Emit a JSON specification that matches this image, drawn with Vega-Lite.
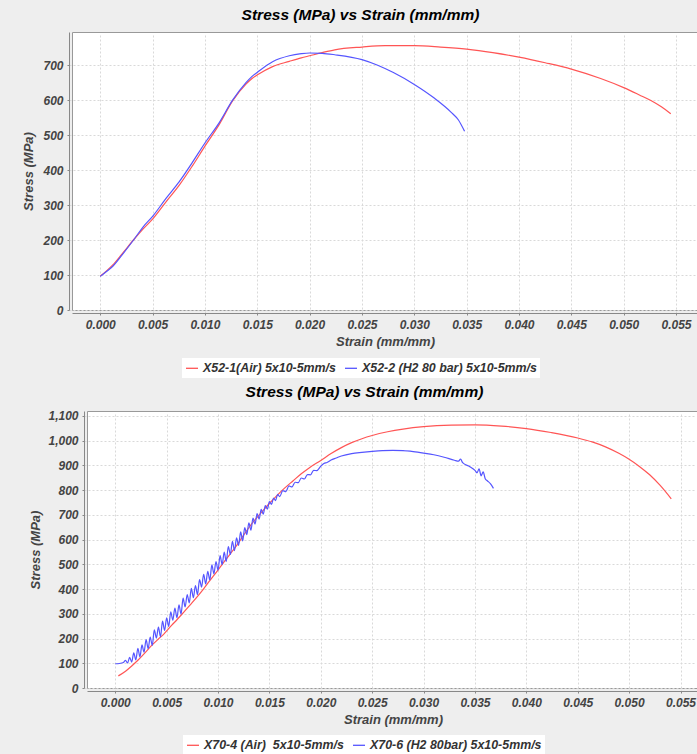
{
  "$schema": "https://vega.github.io/schema/vega-lite/v6.json",
  "background": "#eeeeee",
  "padding": {"left": 22, "top": 7, "right": 0, "bottom": 0},
  "spacing": 5,
  "resolve": {"scale": {"color": "independent"}},
  "config": {
    "font": "Liberation Sans",
    "view": {"fill": "white", "stroke": "#999999"},
    "axis": {
      "labelFont": "Liberation Sans", "labelFontSize": 12, "labelFontStyle": "italic", "labelFontWeight": "bold", "labelColor": "#444444",
      "titleFont": "Liberation Sans", "titleFontSize": 13, "titleFontStyle": "italic", "titleFontWeight": "bold", "titleColor": "#444444",
      "domainColor": "#888888", "tickColor": "#888888", "tickSize": 2, "offset": 3, "labelPadding": 4, "titlePadding": 5,
      "gridColor": "#d9d9d9", "gridDash": [2, 2], "labelOverlap": false, "labelFlush": false
    },
    "legend": {
      "direction": "horizontal", "fillColor": "white", "padding": 3, "symbolType": "stroke", "symbolSize": 144, "symbolStrokeWidth": 1.3,
      "labelFont": "Liberation Sans", "labelFontSize": 12.4, "labelFontStyle": "italic", "labelFontWeight": "bold", "labelColor": "#333333",
      "labelLimit": 400, "columnPadding": 6, "labelOffset": 4, "title": null
    },
    "title": {"font": "Liberation Sans", "fontSize": 15.5, "fontStyle": "italic", "fontWeight": "bold", "color": "#000000", "offset": 9, "anchor": "middle", "frame": "bounds"}
  },
  "datasets": {
    "top": [
      {"series": "X52-1(Air) 5x10-5mm/s", "strain": 0, "stress": 97},
      {"series": "X52-1(Air) 5x10-5mm/s", "strain": 0.0006, "stress": 112},
      {"series": "X52-1(Air) 5x10-5mm/s", "strain": 0.0012, "stress": 129},
      {"series": "X52-1(Air) 5x10-5mm/s", "strain": 0.0022, "stress": 165},
      {"series": "X52-1(Air) 5x10-5mm/s", "strain": 0.00325, "stress": 203},
      {"series": "X52-1(Air) 5x10-5mm/s", "strain": 0.0041, "stress": 232},
      {"series": "X52-1(Air) 5x10-5mm/s", "strain": 0.00506, "stress": 262},
      {"series": "X52-1(Air) 5x10-5mm/s", "strain": 0.0063, "stress": 310},
      {"series": "X52-1(Air) 5x10-5mm/s", "strain": 0.00755, "stress": 357},
      {"series": "X52-1(Air) 5x10-5mm/s", "strain": 0.0088, "stress": 412},
      {"series": "X52-1(Air) 5x10-5mm/s", "strain": 0.01003, "stress": 470},
      {"series": "X52-1(Air) 5x10-5mm/s", "strain": 0.01137, "stress": 531},
      {"series": "X52-1(Air) 5x10-5mm/s", "strain": 0.01264, "stress": 598},
      {"series": "X52-1(Air) 5x10-5mm/s", "strain": 0.01392, "stress": 646},
      {"series": "X52-1(Air) 5x10-5mm/s", "strain": 0.0145, "stress": 662},
      {"series": "X52-1(Air) 5x10-5mm/s", "strain": 0.0151, "stress": 674},
      {"series": "X52-1(Air) 5x10-5mm/s", "strain": 0.01646, "stress": 696},
      {"series": "X52-1(Air) 5x10-5mm/s", "strain": 0.01806, "stress": 711},
      {"series": "X52-1(Air) 5x10-5mm/s", "strain": 0.0192, "stress": 721},
      {"series": "X52-1(Air) 5x10-5mm/s", "strain": 0.02, "stress": 727},
      {"series": "X52-1(Air) 5x10-5mm/s", "strain": 0.0212, "stress": 736},
      {"series": "X52-1(Air) 5x10-5mm/s", "strain": 0.0224, "stress": 744},
      {"series": "X52-1(Air) 5x10-5mm/s", "strain": 0.025, "stress": 752},
      {"series": "X52-1(Air) 5x10-5mm/s", "strain": 0.0272, "stress": 756},
      {"series": "X52-1(Air) 5x10-5mm/s", "strain": 0.03, "stress": 756},
      {"series": "X52-1(Air) 5x10-5mm/s", "strain": 0.0325, "stress": 752},
      {"series": "X52-1(Air) 5x10-5mm/s", "strain": 0.035, "stress": 746},
      {"series": "X52-1(Air) 5x10-5mm/s", "strain": 0.0375, "stress": 736},
      {"series": "X52-1(Air) 5x10-5mm/s", "strain": 0.04, "stress": 723},
      {"series": "X52-1(Air) 5x10-5mm/s", "strain": 0.0425, "stress": 707},
      {"series": "X52-1(Air) 5x10-5mm/s", "strain": 0.045, "stress": 689},
      {"series": "X52-1(Air) 5x10-5mm/s", "strain": 0.0478, "stress": 662},
      {"series": "X52-1(Air) 5x10-5mm/s", "strain": 0.05, "stress": 636},
      {"series": "X52-1(Air) 5x10-5mm/s", "strain": 0.0515, "stress": 615},
      {"series": "X52-1(Air) 5x10-5mm/s", "strain": 0.0526, "stress": 599},
      {"series": "X52-1(Air) 5x10-5mm/s", "strain": 0.0536, "stress": 581},
      {"series": "X52-1(Air) 5x10-5mm/s", "strain": 0.0545, "stress": 561},
      {"series": "X52-2 (H2 80 bar) 5x10-5mm/s", "strain": 0, "stress": 96},
      {"series": "X52-2 (H2 80 bar) 5x10-5mm/s", "strain": 0.0006, "stress": 110},
      {"series": "X52-2 (H2 80 bar) 5x10-5mm/s", "strain": 0.0012, "stress": 125},
      {"series": "X52-2 (H2 80 bar) 5x10-5mm/s", "strain": 0.0022, "stress": 162},
      {"series": "X52-2 (H2 80 bar) 5x10-5mm/s", "strain": 0.00325, "stress": 203},
      {"series": "X52-2 (H2 80 bar) 5x10-5mm/s", "strain": 0.0041, "stress": 238},
      {"series": "X52-2 (H2 80 bar) 5x10-5mm/s", "strain": 0.00506, "stress": 270},
      {"series": "X52-2 (H2 80 bar) 5x10-5mm/s", "strain": 0.0063, "stress": 320},
      {"series": "X52-2 (H2 80 bar) 5x10-5mm/s", "strain": 0.00755, "stress": 367},
      {"series": "X52-2 (H2 80 bar) 5x10-5mm/s", "strain": 0.0088, "stress": 422},
      {"series": "X52-2 (H2 80 bar) 5x10-5mm/s", "strain": 0.01003, "stress": 479},
      {"series": "X52-2 (H2 80 bar) 5x10-5mm/s", "strain": 0.01137, "stress": 536},
      {"series": "X52-2 (H2 80 bar) 5x10-5mm/s", "strain": 0.01264, "stress": 600},
      {"series": "X52-2 (H2 80 bar) 5x10-5mm/s", "strain": 0.01392, "stress": 650},
      {"series": "X52-2 (H2 80 bar) 5x10-5mm/s", "strain": 0.0145, "stress": 668},
      {"series": "X52-2 (H2 80 bar) 5x10-5mm/s", "strain": 0.0151, "stress": 682},
      {"series": "X52-2 (H2 80 bar) 5x10-5mm/s", "strain": 0.01646, "stress": 710},
      {"series": "X52-2 (H2 80 bar) 5x10-5mm/s", "strain": 0.01806, "stress": 727},
      {"series": "X52-2 (H2 80 bar) 5x10-5mm/s", "strain": 0.0192, "stress": 733},
      {"series": "X52-2 (H2 80 bar) 5x10-5mm/s", "strain": 0.02, "stress": 735},
      {"series": "X52-2 (H2 80 bar) 5x10-5mm/s", "strain": 0.0212, "stress": 734},
      {"series": "X52-2 (H2 80 bar) 5x10-5mm/s", "strain": 0.0224, "stress": 730},
      {"series": "X52-2 (H2 80 bar) 5x10-5mm/s", "strain": 0.025, "stress": 716},
      {"series": "X52-2 (H2 80 bar) 5x10-5mm/s", "strain": 0.0265, "stress": 700},
      {"series": "X52-2 (H2 80 bar) 5x10-5mm/s", "strain": 0.028, "stress": 679},
      {"series": "X52-2 (H2 80 bar) 5x10-5mm/s", "strain": 0.03, "stress": 645},
      {"series": "X52-2 (H2 80 bar) 5x10-5mm/s", "strain": 0.0319, "stress": 606},
      {"series": "X52-2 (H2 80 bar) 5x10-5mm/s", "strain": 0.0335, "stress": 566},
      {"series": "X52-2 (H2 80 bar) 5x10-5mm/s", "strain": 0.0342, "stress": 544},
      {"series": "X52-2 (H2 80 bar) 5x10-5mm/s", "strain": 0.0348, "stress": 511}
    ],
    "bottom": [
      {"series": "X70-4 (Air)\u00a0 5x10-5mm/s", "strain": 0.0003, "stress": 49},
      {"series": "X70-4 (Air)\u00a0 5x10-5mm/s", "strain": 0.001, "stress": 68},
      {"series": "X70-4 (Air)\u00a0 5x10-5mm/s", "strain": 0.0016, "stress": 89},
      {"series": "X70-4 (Air)\u00a0 5x10-5mm/s", "strain": 0.0022, "stress": 112},
      {"series": "X70-4 (Air)\u00a0 5x10-5mm/s", "strain": 0.00275, "stress": 136},
      {"series": "X70-4 (Air)\u00a0 5x10-5mm/s", "strain": 0.0035, "stress": 170},
      {"series": "X70-4 (Air)\u00a0 5x10-5mm/s", "strain": 0.0042, "stress": 198},
      {"series": "X70-4 (Air)\u00a0 5x10-5mm/s", "strain": 0.0047, "stress": 217},
      {"series": "X70-4 (Air)\u00a0 5x10-5mm/s", "strain": 0.0055, "stress": 254},
      {"series": "X70-4 (Air)\u00a0 5x10-5mm/s", "strain": 0.006, "stress": 276},
      {"series": "X70-4 (Air)\u00a0 5x10-5mm/s", "strain": 0.00663, "stress": 305},
      {"series": "X70-4 (Air)\u00a0 5x10-5mm/s", "strain": 0.0075, "stress": 346},
      {"series": "X70-4 (Air)\u00a0 5x10-5mm/s", "strain": 0.00858, "stress": 400},
      {"series": "X70-4 (Air)\u00a0 5x10-5mm/s", "strain": 0.0092, "stress": 434},
      {"series": "X70-4 (Air)\u00a0 5x10-5mm/s", "strain": 0.00994, "stress": 474},
      {"series": "X70-4 (Air)\u00a0 5x10-5mm/s", "strain": 0.0105, "stress": 505},
      {"series": "X70-4 (Air)\u00a0 5x10-5mm/s", "strain": 0.01117, "stress": 541},
      {"series": "X70-4 (Air)\u00a0 5x10-5mm/s", "strain": 0.0118, "stress": 576},
      {"series": "X70-4 (Air)\u00a0 5x10-5mm/s", "strain": 0.01246, "stress": 616},
      {"series": "X70-4 (Air)\u00a0 5x10-5mm/s", "strain": 0.0132, "stress": 660},
      {"series": "X70-4 (Air)\u00a0 5x10-5mm/s", "strain": 0.01408, "stress": 703},
      {"series": "X70-4 (Air)\u00a0 5x10-5mm/s", "strain": 0.0149, "stress": 742},
      {"series": "X70-4 (Air)\u00a0 5x10-5mm/s", "strain": 0.0157, "stress": 777},
      {"series": "X70-4 (Air)\u00a0 5x10-5mm/s", "strain": 0.0165, "stress": 809},
      {"series": "X70-4 (Air)\u00a0 5x10-5mm/s", "strain": 0.01731, "stress": 838},
      {"series": "X70-4 (Air)\u00a0 5x10-5mm/s", "strain": 0.0181, "stress": 866},
      {"series": "X70-4 (Air)\u00a0 5x10-5mm/s", "strain": 0.01893, "stress": 892},
      {"series": "X70-4 (Air)\u00a0 5x10-5mm/s", "strain": 0.02, "stress": 920},
      {"series": "X70-4 (Air)\u00a0 5x10-5mm/s", "strain": 0.021, "stress": 948},
      {"series": "X70-4 (Air)\u00a0 5x10-5mm/s", "strain": 0.022, "stress": 972},
      {"series": "X70-4 (Air)\u00a0 5x10-5mm/s", "strain": 0.023, "stress": 992},
      {"series": "X70-4 (Air)\u00a0 5x10-5mm/s", "strain": 0.024, "stress": 1008},
      {"series": "X70-4 (Air)\u00a0 5x10-5mm/s", "strain": 0.025, "stress": 1021},
      {"series": "X70-4 (Air)\u00a0 5x10-5mm/s", "strain": 0.0265, "stress": 1036},
      {"series": "X70-4 (Air)\u00a0 5x10-5mm/s", "strain": 0.028, "stress": 1047},
      {"series": "X70-4 (Air)\u00a0 5x10-5mm/s", "strain": 0.03, "stress": 1057},
      {"series": "X70-4 (Air)\u00a0 5x10-5mm/s", "strain": 0.0327, "stress": 1063},
      {"series": "X70-4 (Air)\u00a0 5x10-5mm/s", "strain": 0.035, "stress": 1064},
      {"series": "X70-4 (Air)\u00a0 5x10-5mm/s", "strain": 0.0376, "stress": 1059},
      {"series": "X70-4 (Air)\u00a0 5x10-5mm/s", "strain": 0.04, "stress": 1049},
      {"series": "X70-4 (Air)\u00a0 5x10-5mm/s", "strain": 0.0424, "stress": 1033},
      {"series": "X70-4 (Air)\u00a0 5x10-5mm/s", "strain": 0.045, "stress": 1011},
      {"series": "X70-4 (Air)\u00a0 5x10-5mm/s", "strain": 0.0464, "stress": 995},
      {"series": "X70-4 (Air)\u00a0 5x10-5mm/s", "strain": 0.0477, "stress": 975},
      {"series": "X70-4 (Air)\u00a0 5x10-5mm/s", "strain": 0.049, "stress": 949},
      {"series": "X70-4 (Air)\u00a0 5x10-5mm/s", "strain": 0.05, "stress": 925},
      {"series": "X70-4 (Air)\u00a0 5x10-5mm/s", "strain": 0.051, "stress": 896},
      {"series": "X70-4 (Air)\u00a0 5x10-5mm/s", "strain": 0.052, "stress": 862},
      {"series": "X70-4 (Air)\u00a0 5x10-5mm/s", "strain": 0.053, "stress": 820},
      {"series": "X70-4 (Air)\u00a0 5x10-5mm/s", "strain": 0.0541, "stress": 765},
      {"series": "X70-6 (H2 80bar) 5x10-5mm/s", "strain": 0, "stress": 98},
      {"series": "X70-6 (H2 80bar) 5x10-5mm/s", "strain": 0.0004, "stress": 99},
      {"series": "X70-6 (H2 80bar) 5x10-5mm/s", "strain": 0.0008, "stress": 103},
      {"series": "X70-6 (H2 80bar) 5x10-5mm/s", "strain": 0.001, "stress": 112},
      {"series": "X70-6 (H2 80bar) 5x10-5mm/s", "strain": 0.0012, "stress": 101},
      {"series": "X70-6 (H2 80bar) 5x10-5mm/s", "strain": 0.0014, "stress": 124},
      {"series": "X70-6 (H2 80bar) 5x10-5mm/s", "strain": 0.0016, "stress": 105},
      {"series": "X70-6 (H2 80bar) 5x10-5mm/s", "strain": 0.0018, "stress": 142},
      {"series": "X70-6 (H2 80bar) 5x10-5mm/s", "strain": 0.002, "stress": 114},
      {"series": "X70-6 (H2 80bar) 5x10-5mm/s", "strain": 0.0022, "stress": 160},
      {"series": "X70-6 (H2 80bar) 5x10-5mm/s", "strain": 0.0024, "stress": 126},
      {"series": "X70-6 (H2 80bar) 5x10-5mm/s", "strain": 0.0026, "stress": 174},
      {"series": "X70-6 (H2 80bar) 5x10-5mm/s", "strain": 0.0028, "stress": 145},
      {"series": "X70-6 (H2 80bar) 5x10-5mm/s", "strain": 0.003, "stress": 196},
      {"series": "X70-6 (H2 80bar) 5x10-5mm/s", "strain": 0.0032, "stress": 159},
      {"series": "X70-6 (H2 80bar) 5x10-5mm/s", "strain": 0.0034, "stress": 206},
      {"series": "X70-6 (H2 80bar) 5x10-5mm/s", "strain": 0.0036, "stress": 172},
      {"series": "X70-6 (H2 80bar) 5x10-5mm/s", "strain": 0.0038, "stress": 235},
      {"series": "X70-6 (H2 80bar) 5x10-5mm/s", "strain": 0.004, "stress": 202},
      {"series": "X70-6 (H2 80bar) 5x10-5mm/s", "strain": 0.0042, "stress": 246},
      {"series": "X70-6 (H2 80bar) 5x10-5mm/s", "strain": 0.0044, "stress": 207},
      {"series": "X70-6 (H2 80bar) 5x10-5mm/s", "strain": 0.0046, "stress": 270},
      {"series": "X70-6 (H2 80bar) 5x10-5mm/s", "strain": 0.0048, "stress": 233},
      {"series": "X70-6 (H2 80bar) 5x10-5mm/s", "strain": 0.005, "stress": 284},
      {"series": "X70-6 (H2 80bar) 5x10-5mm/s", "strain": 0.0052, "stress": 249},
      {"series": "X70-6 (H2 80bar) 5x10-5mm/s", "strain": 0.0054, "stress": 308},
      {"series": "X70-6 (H2 80bar) 5x10-5mm/s", "strain": 0.0056, "stress": 274},
      {"series": "X70-6 (H2 80bar) 5x10-5mm/s", "strain": 0.0058, "stress": 323},
      {"series": "X70-6 (H2 80bar) 5x10-5mm/s", "strain": 0.006, "stress": 284},
      {"series": "X70-6 (H2 80bar) 5x10-5mm/s", "strain": 0.0062, "stress": 336},
      {"series": "X70-6 (H2 80bar) 5x10-5mm/s", "strain": 0.0064, "stress": 299},
      {"series": "X70-6 (H2 80bar) 5x10-5mm/s", "strain": 0.0066, "stress": 363},
      {"series": "X70-6 (H2 80bar) 5x10-5mm/s", "strain": 0.0068, "stress": 328},
      {"series": "X70-6 (H2 80bar) 5x10-5mm/s", "strain": 0.007, "stress": 378},
      {"series": "X70-6 (H2 80bar) 5x10-5mm/s", "strain": 0.0072, "stress": 344},
      {"series": "X70-6 (H2 80bar) 5x10-5mm/s", "strain": 0.0074, "stress": 403},
      {"series": "X70-6 (H2 80bar) 5x10-5mm/s", "strain": 0.0076, "stress": 365},
      {"series": "X70-6 (H2 80bar) 5x10-5mm/s", "strain": 0.0078, "stress": 414},
      {"series": "X70-6 (H2 80bar) 5x10-5mm/s", "strain": 0.008, "stress": 378},
      {"series": "X70-6 (H2 80bar) 5x10-5mm/s", "strain": 0.0082, "stress": 438},
      {"series": "X70-6 (H2 80bar) 5x10-5mm/s", "strain": 0.0084, "stress": 408},
      {"series": "X70-6 (H2 80bar) 5x10-5mm/s", "strain": 0.0086, "stress": 460},
      {"series": "X70-6 (H2 80bar) 5x10-5mm/s", "strain": 0.0088, "stress": 421},
      {"series": "X70-6 (H2 80bar) 5x10-5mm/s", "strain": 0.009, "stress": 472},
      {"series": "X70-6 (H2 80bar) 5x10-5mm/s", "strain": 0.0092, "stress": 437},
      {"series": "X70-6 (H2 80bar) 5x10-5mm/s", "strain": 0.0094, "stress": 498},
      {"series": "X70-6 (H2 80bar) 5x10-5mm/s", "strain": 0.0096, "stress": 462},
      {"series": "X70-6 (H2 80bar) 5x10-5mm/s", "strain": 0.0098, "stress": 511},
      {"series": "X70-6 (H2 80bar) 5x10-5mm/s", "strain": 0.01, "stress": 477},
      {"series": "X70-6 (H2 80bar) 5x10-5mm/s", "strain": 0.0102, "stress": 535},
      {"series": "X70-6 (H2 80bar) 5x10-5mm/s", "strain": 0.0104, "stress": 499},
      {"series": "X70-6 (H2 80bar) 5x10-5mm/s", "strain": 0.0106, "stress": 549},
      {"series": "X70-6 (H2 80bar) 5x10-5mm/s", "strain": 0.0108, "stress": 512},
      {"series": "X70-6 (H2 80bar) 5x10-5mm/s", "strain": 0.011, "stress": 572},
      {"series": "X70-6 (H2 80bar) 5x10-5mm/s", "strain": 0.0112, "stress": 540},
      {"series": "X70-6 (H2 80bar) 5x10-5mm/s", "strain": 0.0114, "stress": 593},
      {"series": "X70-6 (H2 80bar) 5x10-5mm/s", "strain": 0.0116, "stress": 555},
      {"series": "X70-6 (H2 80bar) 5x10-5mm/s", "strain": 0.0118, "stress": 607},
      {"series": "X70-6 (H2 80bar) 5x10-5mm/s", "strain": 0.012, "stress": 577},
      {"series": "X70-6 (H2 80bar) 5x10-5mm/s", "strain": 0.0122, "stress": 631},
      {"series": "X70-6 (H2 80bar) 5x10-5mm/s", "strain": 0.0124, "stress": 595},
      {"series": "X70-6 (H2 80bar) 5x10-5mm/s", "strain": 0.0126, "stress": 649},
      {"series": "X70-6 (H2 80bar) 5x10-5mm/s", "strain": 0.0128, "stress": 620},
      {"series": "X70-6 (H2 80bar) 5x10-5mm/s", "strain": 0.013, "stress": 668},
      {"series": "X70-6 (H2 80bar) 5x10-5mm/s", "strain": 0.0132, "stress": 638},
      {"series": "X70-6 (H2 80bar) 5x10-5mm/s", "strain": 0.0134, "stress": 687},
      {"series": "X70-6 (H2 80bar) 5x10-5mm/s", "strain": 0.0136, "stress": 663},
      {"series": "X70-6 (H2 80bar) 5x10-5mm/s", "strain": 0.0138, "stress": 705},
      {"series": "X70-6 (H2 80bar) 5x10-5mm/s", "strain": 0.014, "stress": 683},
      {"series": "X70-6 (H2 80bar) 5x10-5mm/s", "strain": 0.0142, "stress": 722},
      {"series": "X70-6 (H2 80bar) 5x10-5mm/s", "strain": 0.0144, "stress": 703},
      {"series": "X70-6 (H2 80bar) 5x10-5mm/s", "strain": 0.0146, "stress": 738},
      {"series": "X70-6 (H2 80bar) 5x10-5mm/s", "strain": 0.0148, "stress": 723},
      {"series": "X70-6 (H2 80bar) 5x10-5mm/s", "strain": 0.015, "stress": 754},
      {"series": "X70-6 (H2 80bar) 5x10-5mm/s", "strain": 0.0152, "stress": 742},
      {"series": "X70-6 (H2 80bar) 5x10-5mm/s", "strain": 0.0154, "stress": 768},
      {"series": "X70-6 (H2 80bar) 5x10-5mm/s", "strain": 0.0156, "stress": 758},
      {"series": "X70-6 (H2 80bar) 5x10-5mm/s", "strain": 0.0158, "stress": 783},
      {"series": "X70-6 (H2 80bar) 5x10-5mm/s", "strain": 0.016, "stress": 774},
      {"series": "X70-6 (H2 80bar) 5x10-5mm/s", "strain": 0.0163, "stress": 798},
      {"series": "X70-6 (H2 80bar) 5x10-5mm/s", "strain": 0.0166, "stress": 794},
      {"series": "X70-6 (H2 80bar) 5x10-5mm/s", "strain": 0.0169, "stress": 817},
      {"series": "X70-6 (H2 80bar) 5x10-5mm/s", "strain": 0.0172, "stress": 813},
      {"series": "X70-6 (H2 80bar) 5x10-5mm/s", "strain": 0.0175, "stress": 832},
      {"series": "X70-6 (H2 80bar) 5x10-5mm/s", "strain": 0.0178, "stress": 830},
      {"series": "X70-6 (H2 80bar) 5x10-5mm/s", "strain": 0.0181, "stress": 849},
      {"series": "X70-6 (H2 80bar) 5x10-5mm/s", "strain": 0.0184, "stress": 845},
      {"series": "X70-6 (H2 80bar) 5x10-5mm/s", "strain": 0.0187, "stress": 863},
      {"series": "X70-6 (H2 80bar) 5x10-5mm/s", "strain": 0.019, "stress": 862},
      {"series": "X70-6 (H2 80bar) 5x10-5mm/s", "strain": 0.0193, "stress": 880},
      {"series": "X70-6 (H2 80bar) 5x10-5mm/s", "strain": 0.0196, "stress": 879},
      {"series": "X70-6 (H2 80bar) 5x10-5mm/s", "strain": 0.02, "stress": 897},
      {"series": "X70-6 (H2 80bar) 5x10-5mm/s", "strain": 0.0203, "stress": 908},
      {"series": "X70-6 (H2 80bar) 5x10-5mm/s", "strain": 0.0206, "stress": 912},
      {"series": "X70-6 (H2 80bar) 5x10-5mm/s", "strain": 0.021, "stress": 922},
      {"series": "X70-6 (H2 80bar) 5x10-5mm/s", "strain": 0.0215, "stress": 930},
      {"series": "X70-6 (H2 80bar) 5x10-5mm/s", "strain": 0.022, "stress": 938},
      {"series": "X70-6 (H2 80bar) 5x10-5mm/s", "strain": 0.023, "stress": 948},
      {"series": "X70-6 (H2 80bar) 5x10-5mm/s", "strain": 0.024, "stress": 953},
      {"series": "X70-6 (H2 80bar) 5x10-5mm/s", "strain": 0.025, "stress": 957},
      {"series": "X70-6 (H2 80bar) 5x10-5mm/s", "strain": 0.026, "stress": 960},
      {"series": "X70-6 (H2 80bar) 5x10-5mm/s", "strain": 0.027, "stress": 961},
      {"series": "X70-6 (H2 80bar) 5x10-5mm/s", "strain": 0.028, "stress": 960},
      {"series": "X70-6 (H2 80bar) 5x10-5mm/s", "strain": 0.029, "stress": 956},
      {"series": "X70-6 (H2 80bar) 5x10-5mm/s", "strain": 0.03, "stress": 950},
      {"series": "X70-6 (H2 80bar) 5x10-5mm/s", "strain": 0.031, "stress": 943},
      {"series": "X70-6 (H2 80bar) 5x10-5mm/s", "strain": 0.032, "stress": 933},
      {"series": "X70-6 (H2 80bar) 5x10-5mm/s", "strain": 0.033, "stress": 921},
      {"series": "X70-6 (H2 80bar) 5x10-5mm/s", "strain": 0.0334, "stress": 917},
      {"series": "X70-6 (H2 80bar) 5x10-5mm/s", "strain": 0.0336, "stress": 926},
      {"series": "X70-6 (H2 80bar) 5x10-5mm/s", "strain": 0.0338, "stress": 911},
      {"series": "X70-6 (H2 80bar) 5x10-5mm/s", "strain": 0.0345, "stress": 895},
      {"series": "X70-6 (H2 80bar) 5x10-5mm/s", "strain": 0.035, "stress": 880},
      {"series": "X70-6 (H2 80bar) 5x10-5mm/s", "strain": 0.0352, "stress": 870},
      {"series": "X70-6 (H2 80bar) 5x10-5mm/s", "strain": 0.0354, "stress": 886},
      {"series": "X70-6 (H2 80bar) 5x10-5mm/s", "strain": 0.0356, "stress": 858},
      {"series": "X70-6 (H2 80bar) 5x10-5mm/s", "strain": 0.0358, "stress": 874},
      {"series": "X70-6 (H2 80bar) 5x10-5mm/s", "strain": 0.036, "stress": 846},
      {"series": "X70-6 (H2 80bar) 5x10-5mm/s", "strain": 0.0362, "stress": 838},
      {"series": "X70-6 (H2 80bar) 5x10-5mm/s", "strain": 0.0365, "stress": 826},
      {"series": "X70-6 (H2 80bar) 5x10-5mm/s", "strain": 0.0368, "stress": 807}
    ]
  },
  "vconcat": [
    {
      "title": {"text": "Stress (MPa) vs Strain (mm/mm)"},
      "width": 626,
      "height": 278,
      "data": {"name": "top"},
      "mark": {"type": "line", "strokeWidth": 1.2, "interpolate": "monotone"},
      "encoding": {
        "x": {"field": "strain", "type": "quantitative", "scale": {"domain": [-0.0027, 0.0571], "nice": false, "zero": false},
              "axis": {"title": "Strain (mm/mm)", "values": [0, 0.005, 0.01, 0.015, 0.02, 0.025, 0.03, 0.035, 0.04, 0.045, 0.05, 0.055], "format": ".3f"}},
        "y": {"field": "stress", "type": "quantitative", "scale": {"domain": [0, 795], "nice": false},
              "axis": {"title": "Stress (MPa)", "values": [0, 100, 200, 300, 400, 500, 600, 700], "format": ",d", "titlePadding": 7}},
        "color": {"field": "series", "type": "nominal",
                  "scale": {"domain": ["X52-1(Air) 5x10-5mm/s", "X52-2 (H2 80 bar) 5x10-5mm/s"], "range": ["#ff5555", "#5555ff"]},
                  "legend": {"orient": "none", "legendX": 110, "legendY": 326}}
      }
    },
    {
      "spacing": -44,
      "hconcat": [
        {
          "width": 1,
          "height": 1,
          "view": {"fill": null, "stroke": null},
          "data": {"values": []},
          "mark": "point",
          "encoding": {}
        },
        {
          "title": {"text": "Stress (MPa) vs Strain (mm/mm)"},
          "width": 612,
          "height": 277,
          "data": {"name": "bottom"},
          "mark": {"type": "line", "strokeWidth": 1.2, "interpolate": "monotone"},
          "encoding": {
            "x": {"field": "strain", "type": "quantitative", "scale": {"domain": [-0.00275, 0.0568], "nice": false, "zero": false},
                  "axis": {"title": "Strain (mm/mm)", "values": [0, 0.005, 0.01, 0.015, 0.02, 0.025, 0.03, 0.035, 0.04, 0.045, 0.05, 0.055], "format": ".3f"}},
            "y": {"field": "stress", "type": "quantitative", "scale": {"domain": [0, 1120], "nice": false},
                  "axis": {"title": "Stress (MPa)", "values": [0, 100, 200, 300, 400, 500, 600, 700, 800, 900, 1000, 1100], "format": ",d", "titlePadding": 5}},
            "color": {"field": "series", "type": "nominal",
                      "scale": {"domain": ["X70-4 (Air)\u00a0 5x10-5mm/s", "X70-6 (H2 80bar) 5x10-5mm/s"], "range": ["#ff5555", "#5555ff"]},
                      "legend": {"orient": "none", "legendX": 111, "legendY": 324}}
          }
        }
      ]
    }
  ]
}
